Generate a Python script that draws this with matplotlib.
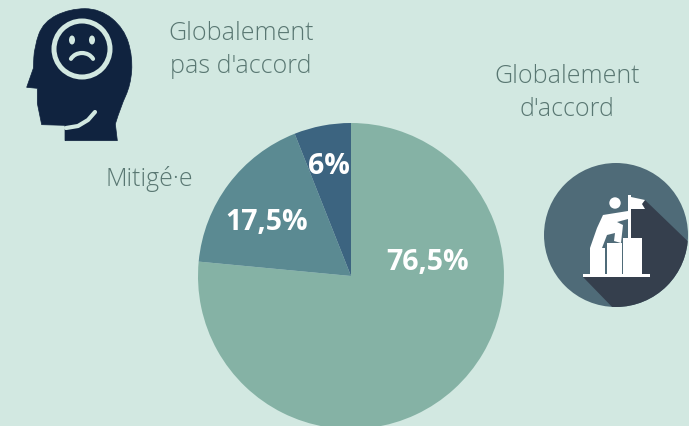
import matplotlib
matplotlib.use('Agg')
import matplotlib.pyplot as plt
from matplotlib.patches import Circle, Polygon, Arc, Ellipse, PathPatch
from matplotlib.path import Path

# values
labels = ['Globalement\nd\'accord', 'Mitigé·e', 'Globalement\npas d\'accord']
shares = [76.5, 17.5, 6]
share_labels = ['76,5%', '17,5%', '6%']
colors = ['#85b2a5', '#5b8a92', '#3c6480']

BG = '#d2e8e1'
NAVY = '#10233f'
TXT = '#597772'
H = 426

plt.rcParams['font.family'] = ['Open Sans', 'DejaVu Sans']

fig = plt.figure(figsize=(6.89, 4.26), dpi=100, facecolor=BG)
ax = fig.add_axes([0, 0, 1, 1])
ax.set_facecolor(BG)


def px(x, y):
    # picture pixels (y down) to axes coords
    return (x, H - y)


# the pie, cut by the bottom edge
wedges, _ = ax.pie(shares, colors=colors, startangle=90, counterclock=False,
                   center=px(351, 276), radius=153, frame=True)
ax.set_xlim(0, 689)
ax.set_ylim(0, H)
ax.set_aspect('equal')
ax.axis('off')

ax.text(*px(428, 262), share_labels[0], color='white', fontsize=20.5, fontweight='bold', ha='center', va='center')
ax.text(*px(267, 222), share_labels[1], color='white', fontsize=20.5, fontweight='bold', ha='center', va='center')
ax.text(*px(329, 166), share_labels[2], color='white', fontsize=20.5, fontweight='bold', ha='center', va='center')

# category text
ax.text(*px(241, 50), labels[2], color=TXT, fontsize=18, fontweight='light', ha='center', va='center', linespacing=1.4)
ax.text(*px(567, 93), labels[0], color=TXT, fontsize=18, fontweight='light', ha='center', va='center', linespacing=1.4)
ax.text(*px(149, 179), labels[1], color=TXT, fontsize=18, fontweight='light', ha='center', va='center')

skull = [(362, 320), (392, 255), (398, 170), (372, 85), (300, 26), (210, 26), (130, 65), (103, 140)]
start = [(195, 422), (352, 422), (346, 372)]
end = [(100, 205), (80, 262), (112, 265), (112, 310), (125, 374), (195, 376), (195, 422)]
verts = [px(x / 3, y / 3) for x, y in start]
codes = [Path.MOVETO, Path.LINETO, Path.LINETO]
for i, p in enumerate(skull):
    nxt = skull[i + 1] if i + 1 < len(skull) else end[0]
    mid = ((p[0] + nxt[0]) / 2, (p[1] + nxt[1]) / 2)
    verts += [px(p[0] / 3, p[1] / 3), px(mid[0] / 3, mid[1] / 3)]
    codes += [Path.CURVE3, Path.CURVE3]
for p in end:
    verts.append(px(p[0] / 3, p[1] / 3))
    codes.append(Path.LINETO)
ax.add_patch(PathPatch(Path(verts, codes), fc=NAVY, ec=NAVY, lw=0.5, zorder=3))

ax.add_patch(Circle(px(82, 49), 28, fc='none', ec=BG, lw=3.6, zorder=4))
ax.add_patch(Ellipse(px(72, 40), 6, 9, fc=BG, ec='none', zorder=4))
ax.add_patch(Ellipse(px(92, 40), 6, 9, fc=BG, ec='none', zorder=4))
ax.add_patch(Arc(px(82, 64), 25, 22, theta1=25, theta2=155, ec=BG, lw=3, capstyle='round', zorder=4))
ax.plot(*zip(px(66, 128), px(78, 126), px(88, 120), px(95, 112)), color=BG, lw=3,
        solid_capstyle='round', zorder=4)

# badge icon with long shadow
cx, cy = px(616, 235)
badge = Circle((cx, cy), 72, fc='#4f6b78', ec='none', zorder=3)
ax.add_patch(badge)
shadow = Polygon([px(583, 277), px(617, 312), px(700, 312), px(700, 253), px(645, 200), px(630, 200), px(630, 274)],
                 closed=True, fc='#353f4d', ec='none', zorder=4)
ax.add_patch(shadow)
shadow.set_clip_path(badge)

W = 'white'
ax.add_patch(Polygon([px(583, 277), px(650, 277), px(650, 274), px(583, 274)], fc=W, ec='none', zorder=5))
for x0, x1, top in [(590, 605, 248), (607, 622, 243), (623, 642, 238)]:
    ax.add_patch(Polygon([px(x0, 274), px(x1, 274), px(x1, top), px(x0, top)], fc=W, ec='none', zorder=5))
ax.add_patch(Circle(px(615, 203), 5.7, fc=W, ec='none', zorder=5))
body = [(603, 215), (628, 211), (628, 219), (617, 222), (623, 225), (621, 243), (614, 241), (615, 233),
        (607, 235), (602, 248), (590, 248), (597, 228)]
ax.add_patch(Polygon([px(*p) for p in body], fc=W, ec='none', zorder=5))
ax.add_patch(Polygon([px(628, 195), px(631, 195), px(631, 238), px(628, 238)], fc=W, ec='none', zorder=5))
ax.add_patch(Polygon([px(631, 197), px(645, 200), px(642, 204), px(645, 209), px(631, 209)], fc=W, ec='none', zorder=5))

fig.savefig('out.png', dpi=100, facecolor=BG)
